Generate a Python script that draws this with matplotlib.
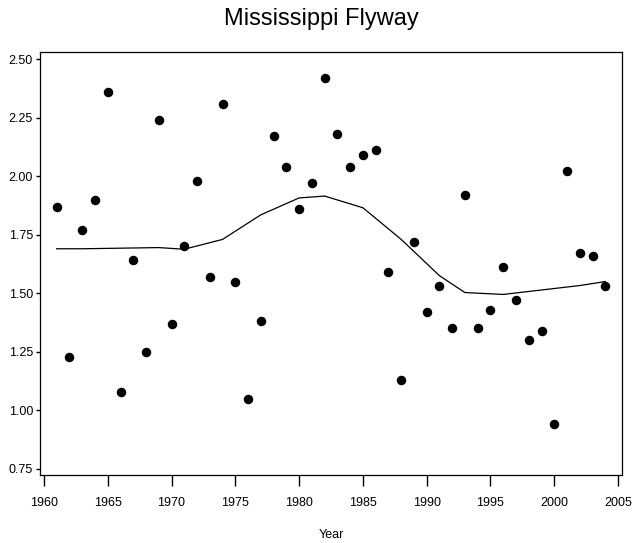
import matplotlib
matplotlib.use("Agg")
import matplotlib.pyplot as plt

plt.rcParams['font.family'] = ['Liberation Sans', 'DejaVu Sans']

# yearly values (dots)
years = list(range(1961, 2005))
values = [1.87, 1.23, 1.77, 1.90, 2.36, 1.08, 1.64, 1.25, 2.24, 1.37,
          1.70, 1.98, 1.57, 2.31, 1.55, 1.05, 1.38, 2.17, 2.04, 1.86,
          1.97, 2.42, 2.18, 2.04, 2.09, 2.11, 1.59, 1.13, 1.72, 1.42,
          1.53, 1.35, 1.92, 1.35, 1.43, 1.61, 1.47, 1.30, 1.34, 0.94,
          2.02, 1.67, 1.66, 1.53]

# smoothed trend line
trend_years = [1961, 1963, 1969, 1971, 1974, 1977, 1980, 1982, 1985, 1988,
               1991, 1993, 1996, 2002, 2004]
trend_vals = [1.690, 1.690, 1.695, 1.688, 1.730, 1.835, 1.907, 1.915, 1.865, 1.730,
              1.575, 1.503, 1.495, 1.533, 1.550]

xticks = [1960, 1965, 1970, 1975, 1980, 1985, 1990, 1995, 2000, 2005]
yticks = [0.75, 1.00, 1.25, 1.50, 1.75, 2.00, 2.25, 2.50]

fig = plt.figure(figsize=(6.43, 5.43), dpi=100)
ax = fig.add_axes([0.0622, 0.1252, 0.905, 0.779])

ax.plot(trend_years, trend_vals, color='black', lw=0.9)
ax.scatter(years, values, s=34, color='black', zorder=3)

ax.set_xlim(1959.69, 2005.3)
ax.set_ylim(0.724, 2.53)
ax.set_xticks(xticks)
ax.set_yticks(yticks)
ax.set_yticklabels(['%.2f' % v for v in yticks])

ax.tick_params(axis='x', length=8, width=1, pad=8, labelsize=9)
ax.tick_params(axis='y', length=3, width=1, pad=2, labelsize=9)
for s in ax.spines.values():
    s.set_linewidth(0.9)

ax.set_xlabel('Year', fontsize=9, labelpad=14)
fig.suptitle('Mississippi Flyway', fontsize=17, y=0.985)

fig.savefig('out.png', dpi=100)
